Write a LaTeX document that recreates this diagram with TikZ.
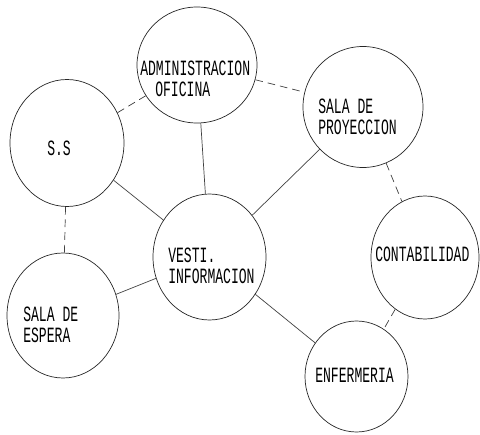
\documentclass[tikz,border=0pt]{standalone}
\usepackage{fontspec}
\usetikzlibrary{shapes.geometric}
\newfontfamily\cadfont[FakeStretch=0.6]{Liberation Mono}

\begin{document}
\begin{tikzpicture}[
  font=\cadfont\fontsize{15.5}{15}\selectfont,
  room/.style={draw=black!85,line width=0.5pt,ellipse,inner sep=0pt},
  roomtext/.style={anchor=west,align=left,inner sep=0pt},
  link/.style={draw=black!75,line width=0.5pt},
  dashlink/.style={link,dash pattern=on 5.5pt off 3.5pt}
]
\useasboundingbox (0,0) rectangle (12,10.875);

% ===== ROOMS =====
\node[room,minimum width=3.0cm,minimum height=2.9cm] (adm) at (4.925,9.25) {};
\node[room,minimum width=2.85cm,minimum height=3.175cm] (ss) at (1.675,7.3) {};
\node[room,minimum width=3.0cm,minimum height=3.025cm] (proy) at (9.075,8.2) {};
\node[room,minimum width=2.825cm,minimum height=3.15cm] (vesti) at (5.2375,4.45) {};
\node[room,minimum width=2.7cm,minimum height=3.075cm] (conta) at (10.625,4.4375) {};
\node[room,minimum width=2.8cm,minimum height=3.125cm] (espera) at (1.575,2.9875) {};
\node[room,minimum width=2.575cm,minimum height=2.775cm] (enf) at (8.9125,1.4625) {};

% labels
\node[roomtext] (adm-t) at (3.5,8.9125) {ADMINISTRACION\\\hspace*{0.375cm}OFICINA};
\node[roomtext] (ss-t) at (1.175,7.175) {S.S};
\node[roomtext] (proy-t) at (7.95,7.95) {SALA DE\\PROYECCION};
\node[roomtext] (vesti-t) at (4.2,4.225) {VESTI.\\INFORMACION};
\node[roomtext] (conta-t) at (9.375,4.525) {CONTABILIDAD};
\node[roomtext] (espera-t) at (0.575,2.75) {SALA DE\\ESPERA};
\node[roomtext] (enf-t) at (7.875,1.5) {ENFERMERIA};

% ===== RELATIONS =====
% direct (solid)
\foreach \r in {adm,ss,proy,espera,enf}{
  \draw[link] (vesti) -- (\r);
}
% indirect (dashed)
\draw[dashlink] (ss) -- (adm);
\draw[dashlink] (adm) -- (proy);
\draw[dashlink] (proy) -- (conta);
\draw[dashlink] (ss) -- (espera);
\draw[dashlink] (conta) -- (enf);

\end{tikzpicture}
\end{document}
